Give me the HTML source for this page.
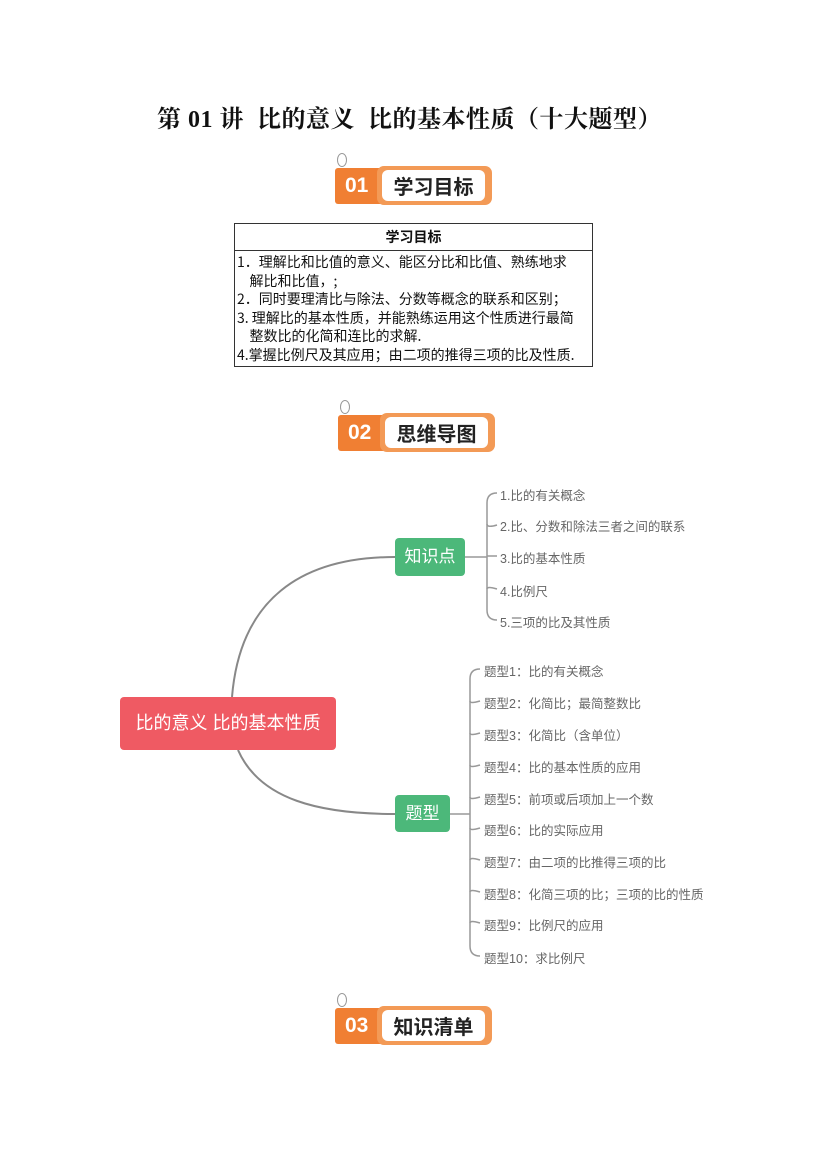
<!DOCTYPE html>
<html><head><meta charset="utf-8"><style>
body{margin:0;background:#fff;}
#p{position:relative;width:827px;height:1169px;overflow:hidden;font-family:"Liberation Sans","Noto Sans CJK SC",sans-serif;}
.t{position:absolute;white-space:nowrap;}
.ban{position:absolute;width:157px;height:40px;}
.ban .o{position:absolute;left:0;top:3px;width:50px;height:36px;background:#f07f33;color:#fff;font:bold 21px "Liberation Sans",sans-serif;line-height:36px;padding-left:10px;box-sizing:border-box;border-radius:3px 0 0 3px;}
.ban .w{position:absolute;left:42px;top:1px;width:115px;height:39px;background:#f39a56;border-radius:7px;}
.ban .w div{position:absolute;left:5px;top:4px;right:7px;bottom:4px;background:#fff;border-radius:6px;font:bold 20px "Noto Sans CJK SC",sans-serif;line-height:31px;text-align:center;color:#222;}
.ban .s{position:absolute;left:2px;top:-12px;width:8px;height:12px;border:1px solid #999;border-radius:50%;}
table{position:absolute;left:234px;top:223px;width:359px;border-collapse:collapse;font:14px "Noto Sans CJK SC",sans-serif;color:#111;}
td{border:1px solid #333;padding:0 2px;line-height:18.6px;}
.k{font-size:12.5px;color:#666;}
</style></head><body><div id="p">
<div class="t" style="left:157px;top:99px;font:bold 24px 'Liberation Serif','Noto Serif CJK SC',serif;color:#111;letter-spacing:0.5px">第 01 讲&nbsp; 比的意义&nbsp; 比的基本性质（十大题型）</div>

<div class="ban" style="left:335px;top:165px"><div class="s"></div><div class="o">01</div><div class="w"><div>学习目标</div></div></div>

<table><tr><td style="text-align:center;font-weight:bold;height:26px">学习目标</td></tr>
<tr><td style="padding-top:2px;padding-bottom:1px">1．理解比和比值的意义、能区分比和比值、熟练地求<br>&nbsp;&nbsp;&nbsp;&nbsp;解比和比值，;<br>2．同时要理清比与除法、分数等概念的联系和区别；<br>3. 理解比的基本性质，并能熟练运用这个性质进行最简<br>&nbsp;&nbsp;&nbsp;&nbsp;整数比的化简和连比的求解.<br>4.掌握比例尺及其应用；由二项的推得三项的比及性质.</td></tr></table>

<div class="ban" style="left:338px;top:412px"><div class="s"></div><div class="o">02</div><div class="w"><div>思维导图</div></div></div>

<svg style="position:absolute;left:0;top:0" width="827" height="1169" fill="none" stroke="#999" stroke-width="1.5">
<path d="M232 697 C240 600,300 557,395 557" stroke="#888" stroke-width="2"/>
<path d="M238 750 C260 800,320 814,395 814" stroke="#888" stroke-width="2"/>
<path d="M465 557 H487"/>
<path d="M497 493 Q487 493 487 503 V610 Q487 620 497 620"/>
<path d="M487 524 Q487 528 497 525 M487 589 Q487 586 497 589 M487 556 H497"/>
<path d="M450 814 H470"/>
<path d="M480 669 Q470 669 470 679 V946 Q470 956 480 956"/>
<path d="M470 701 Q470 704 480 701 M470 733 Q470 736 480 733 M470 765 Q470 768 480 765 M470 797 Q470 800 480 797 M470 828 Q470 831 480 828 M470 860 Q470 857 480 860 M470 892 Q470 889 480 892 M470 923 Q470 920 480 923"/>
</svg>

<div class="t" style="left:120px;top:697px;width:216px;height:53px;background:#ef5a63;border-radius:4px;color:#fff;font-size:18px;line-height:53px;text-align:center;">比的意义 比的基本性质</div>
<div class="t" style="left:395px;top:538px;width:70px;height:38px;background:#4cb87a;border-radius:4px;color:#fff;font-size:17px;line-height:38px;text-align:center;">知识点</div>
<div class="t" style="left:395px;top:795px;width:55px;height:37px;background:#4cb87a;border-radius:4px;color:#fff;font-size:17px;line-height:37px;text-align:center;">题型</div>

<div class="t k" style="left:500px;top:485px">1.比的有关概念</div>
<div class="t k" style="left:500px;top:516px">2.比、分数和除法三者之间的联系</div>
<div class="t k" style="left:500px;top:548px">3.比的基本性质</div>
<div class="t k" style="left:500px;top:581px">4.比例尺</div>
<div class="t k" style="left:500px;top:612px">5.三项的比及其性质</div>

<div class="t k" style="left:484px;top:661px">题型1：比的有关概念</div>
<div class="t k" style="left:484px;top:693px">题型2：化简比；最简整数比</div>
<div class="t k" style="left:484px;top:725px">题型3：化简比（含单位）</div>
<div class="t k" style="left:484px;top:757px">题型4：比的基本性质的应用</div>
<div class="t k" style="left:484px;top:789px">题型5：前项或后项加上一个数</div>
<div class="t k" style="left:484px;top:820px">题型6：比的实际应用</div>
<div class="t k" style="left:484px;top:852px">题型7：由二项的比推得三项的比</div>
<div class="t k" style="left:484px;top:884px">题型8：化简三项的比；三项的比的性质</div>
<div class="t k" style="left:484px;top:915px">题型9：比例尺的应用</div>
<div class="t k" style="left:484px;top:948px">题型10：求比例尺</div>

<div class="ban" style="left:335px;top:1005px"><div class="s"></div><div class="o">03</div><div class="w"><div>知识清单</div></div></div>
</div></body></html>
